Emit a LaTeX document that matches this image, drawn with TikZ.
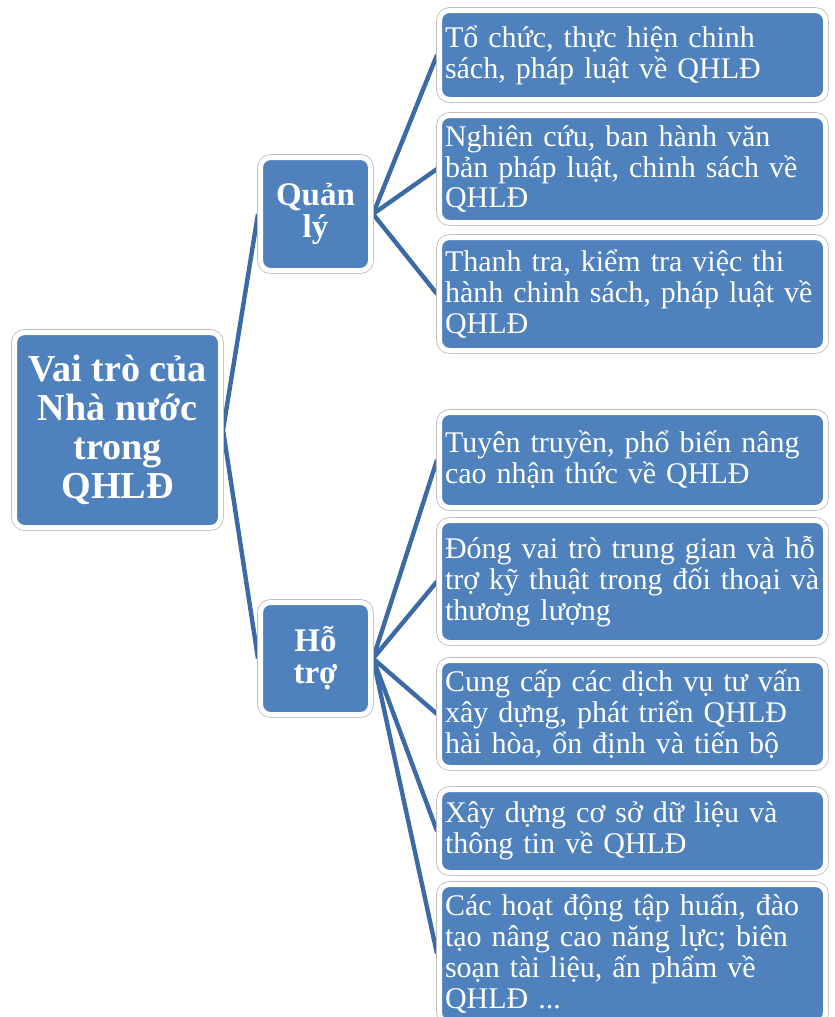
\documentclass[tikz,border=0pt]{standalone}
\usepackage{fontspec}
\setmainfont{Liberation Serif}
\usetikzlibrary{backgrounds}
\newlength\pxu
\setlength\pxu{0.75pt}
\definecolor{boxblue}{HTML}{4F81BD}
\definecolor{lineblue}{HTML}{3C6AA5}
\definecolor{rimgray}{HTML}{BFBFBF}
\tikzset{
  boxbase/.style={rectangle, rounded corners=10\pxu, fill=boxblue, draw=white,
    line width=5\pxu, preaction={draw=rimgray, line width=6.6\pxu},
    text=white, inner ysep=0pt},
  rootbox/.style={boxbase, minimum width=206\pxu, minimum height=195\pxu,
    align=center, font=\bfseries\fontsize{28.6pt}{29.25pt}\selectfont},
  midbox/.style={boxbase, minimum width=110\pxu, minimum height=112\pxu,
    align=center, font=\bfseries\fontsize{24.75pt}{24pt}\selectfont},
  leafbox/.style={boxbase, text width=375\pxu, inner xsep=5.5\pxu, align=left,
    font=\fontsize{22.5pt}{23.1pt}\selectfont},
  link/.style={draw=lineblue, line width=4.4\pxu}
}
\begin{document}
\begin{tikzpicture}[x=0.75pt, y=-0.75pt]
\useasboundingbox (0,0) rectangle (835,1017);
\clip (0,0) rectangle (835,1017);
\node[rootbox] (root) at (117.5,430) {Vai trò của\\Nhà nước\\trong\\QHLĐ};
\node[midbox, minimum height=113\pxu] (ql) at (315.5,214) {Quản\\lý};
\node[midbox] (ht) at (315.5,658.5) {Hỗ\\trợ};
\node[leafbox, minimum height=89\pxu] (a1) at (632.5,55) {Tổ chức, thực hiện  chinh\\sách, pháp luật về QHLĐ};
\node[leafbox, minimum height=107\pxu] (a2) at (632.5,169) {Nghiên cứu, ban hành văn\\bản pháp luật,  chinh  sách về\\QHLĐ};
\node[leafbox, minimum height=113\pxu] (a3) at (632.5,294) {Thanh tra, kiểm tra việc thi\\hành chinh sách, pháp luật về\\QHLĐ};
\node[leafbox, minimum height=95\pxu] (b1) at (632.5,460) {Tuyên truyền,  phổ biến nâng\\cao nhận thức về QHLĐ};
\node[leafbox, minimum height=122\pxu] (b2) at (632.5,581.5) {Đóng vai trò trung gian và hỗ\\trợ kỹ thuật trong đối thoại và\\thương lượng};
\node[leafbox, minimum height=107\pxu] (b3) at (632.5,714) {Cung cấp các dịch vụ tư vấn\\xây dựng, phát triển QHLĐ\\hài hòa, ổn định và tiến bộ};
\node[leafbox, minimum height=83\pxu] (b4) at (632.5,831) {Xây dựng cơ sở dữ liệu và\\thông tin về QHLĐ};
\node[leafbox, minimum height=138\pxu] (b5) at (632.5,953.5) {Các hoạt động tập huấn,  đào\\tạo nâng cao năng lực; biên\\soạn tài liệu,  ấn phẩm về\\QHLĐ ...};
\begin{scope}[on background layer]
\draw[link, line join=round] (ql.west) -- (root.east) -- (ht.west);
\foreach \t in {a1,a2,a3} \draw[link] (ql.east) -- (\t.west);
\foreach \t in {b1,b2,b3,b4,b5} \draw[link] (ht.east) -- (\t.west);
\end{scope}
\end{tikzpicture}
\end{document}
